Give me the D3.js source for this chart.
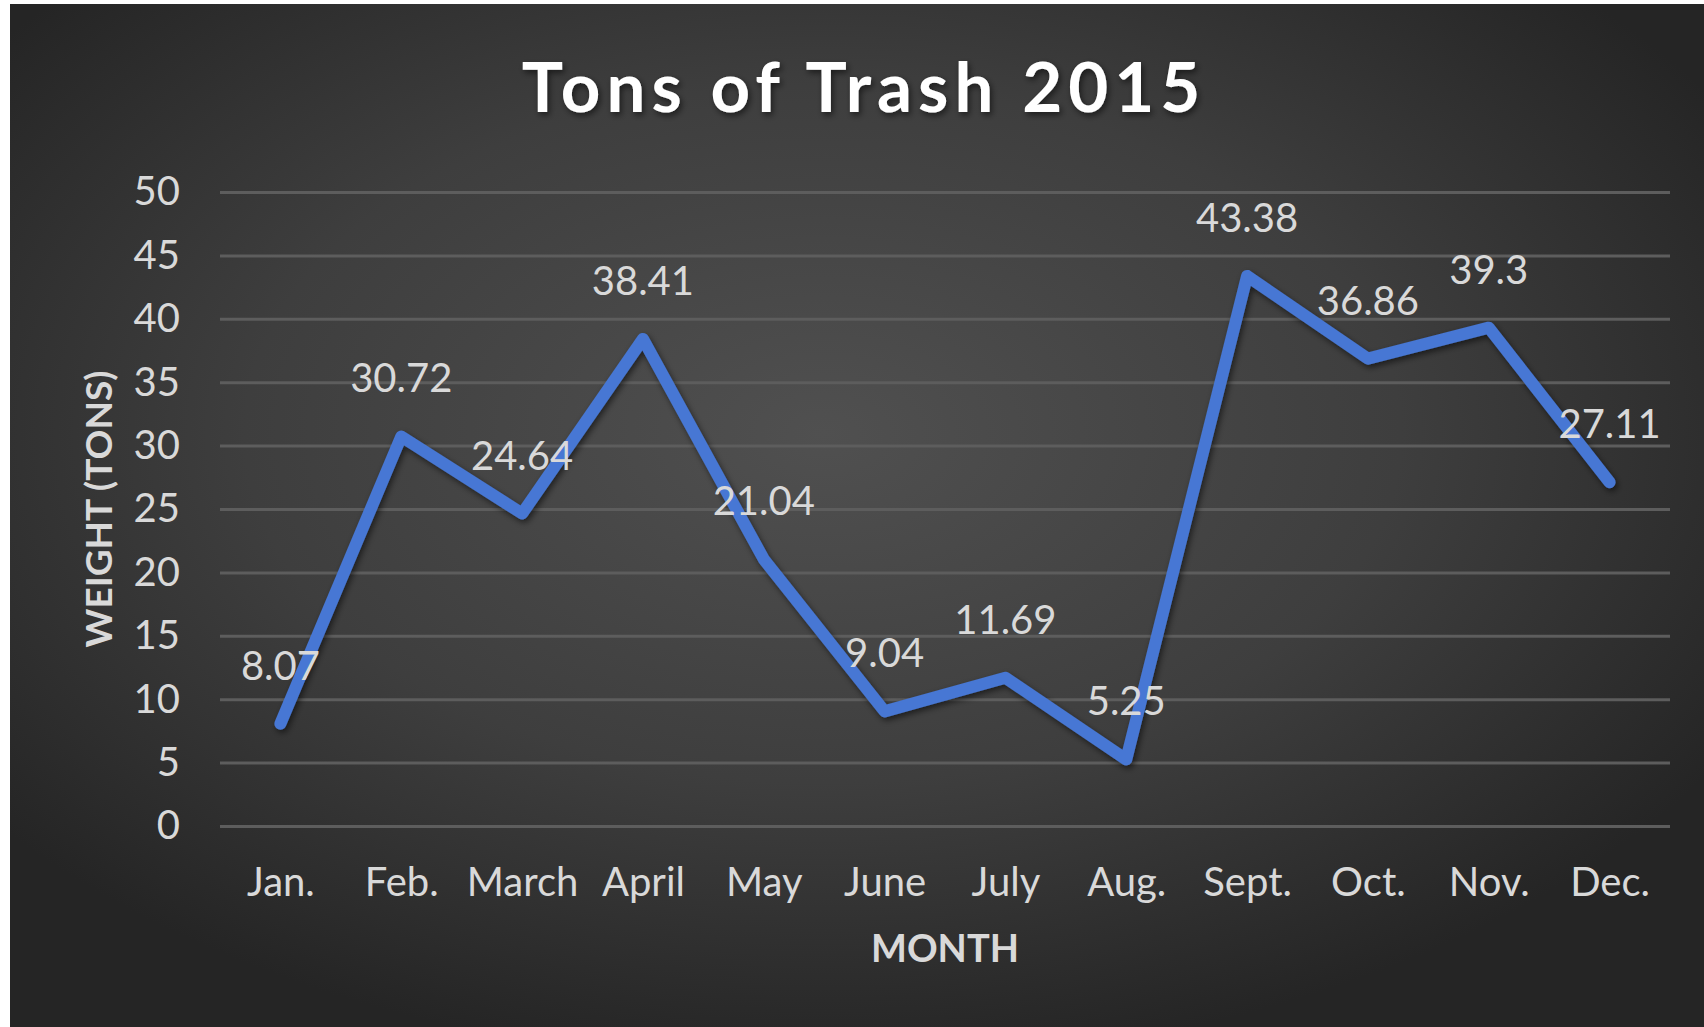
<!DOCTYPE html>
<html>
<head>
<meta charset="utf-8">
<script src="https://cdn.jsdelivr.net/npm/d3@7"></script>
<style>
  body { margin: 0; background: #fff; }
  svg { display: block; }
</style>
</head>
<body>
<script>
// data
const months = ["Jan.", "Feb.", "March", "April", "May", "June", "July", "Aug.", "Sept.", "Oct.", "Nov.", "Dec."];
const tons = [8.07, 30.72, 24.64, 38.41, 21.04, 9.04, 11.69, 5.25, 43.38, 36.86, 39.3, 27.11];
const yTicks = [0, 5, 10, 15, 20, 25, 30, 35, 40, 45, 50];

const w = 1704;
const h = 1027;
const plotLeft = 220, plotRight = 1670, plotTop = 192, plotBottom = 826;
const font = "Lato, 'Open Sans', sans-serif";

const svg = d3.select("body").append("svg")
  .attr("width", w)
  .attr("height", h);

const defs = svg.append("defs");
const grad = defs.append("radialGradient")
  .attr("id", "bg")
  .attr("cx", "48%").attr("cy", "42%")
  .attr("r", "62%");
grad.append("stop").attr("offset", "0%").attr("stop-color", "#505050");
grad.append("stop").attr("offset", "55%").attr("stop-color", "#3e3e3e");
grad.append("stop").attr("offset", "100%").attr("stop-color", "#252525");

const shadow = defs.append("filter").attr("id", "shadow")
  .attr("x", "-10%").attr("y", "-10%").attr("width", "120%").attr("height", "130%");
shadow.append("feDropShadow")
  .attr("dx", 2).attr("dy", 3).attr("stdDeviation", 3)
  .attr("flood-color", "#000").attr("flood-opacity", 0.55);

// background, leaving the thin white strip on the left and top
svg.append("rect")
  .attr("x", 10).attr("y", 4)
  .attr("width", w - 10).attr("height", h - 4)
  .attr("fill", "url(#bg)");

const xScale = d3.scalePoint()
  .domain(months)
  .range([plotLeft, plotRight])
  .padding(0.5);

const yScale = d3.scaleLinear()
  .domain([0, 50])
  .range([plotBottom, plotTop]);

// gridlines + y labels
const yAxis = d3.axisLeft(yScale)
  .tickValues(yTicks)
  .tickSize(-(plotRight - plotLeft))
  .tickPadding(40);

const gy = svg.append("g")
  .attr("transform", "translate(" + plotLeft + ",0)")
  .call(yAxis);
gy.select(".domain").remove();
gy.selectAll(".tick line")
  .attr("stroke", "#5d5d5d")
  .attr("stroke-width", 3);
gy.selectAll(".tick text")
  .attr("fill", "#d9d9d9")
  .style("font-family", font)
  .style("font-size", "40px");

// x labels
const xAxis = d3.axisBottom(xScale).tickSize(0).tickPadding(42);
const gx = svg.append("g")
  .attr("transform", "translate(0," + plotBottom + ")")
  .call(xAxis);
gx.select(".domain").remove();
gx.selectAll(".tick text")
  .attr("fill", "#d9d9d9")
  .style("font-family", font)
  .style("font-size", "40px");

// the line
const line = d3.line()
  .x((d, i) => xScale(months[i]))
  .y((d) => yScale(d));

svg.append("path")
  .datum(tons)
  .attr("d", line)
  .attr("fill", "none")
  .attr("stroke", "#4677d4")
  .attr("stroke-width", 12)
  .attr("stroke-linejoin", "round")
  .attr("stroke-linecap", "round")
  .attr("filter", "url(#shadow)");

// data labels
svg.selectAll(".lbl")
  .data(tons)
  .enter()
  .append("text")
  .attr("class", "lbl")
  .attr("x", (d, i) => xScale(months[i]))
  .attr("y", (d) => yScale(d) - 44)
  .attr("text-anchor", "middle")
  .attr("fill", "#d9d9d9")
  .style("font-family", font)
  .style("font-size", "40px")
  .text((d) => d);

// title
svg.append("text")
  .attr("x", 864)
  .attr("y", 112)
  .attr("text-anchor", "middle")
  .attr("fill", "#ffffff")
  .attr("filter", "url(#shadow)")
  .style("font-family", font)
  .style("font-weight", "bold")
  .style("font-size", "69px")
  .style("letter-spacing", "6px")
  .text("Tons of Trash 2015");

// axis titles
svg.append("text")
  .attr("transform", "translate(112,509) rotate(-90)")
  .attr("text-anchor", "middle")
  .attr("fill", "#d9d9d9")
  .style("font-family", font)
  .style("font-weight", "bold")
  .style("font-size", "37px")
  .text("WEIGHT (TONS)");

svg.append("text")
  .attr("x", 945)
  .attr("y", 962)
  .attr("text-anchor", "middle")
  .attr("fill", "#d9d9d9")
  .style("font-family", font)
  .style("font-weight", "bold")
  .style("font-size", "38px")
  .text("MONTH");
</script>
</body>
</html>
